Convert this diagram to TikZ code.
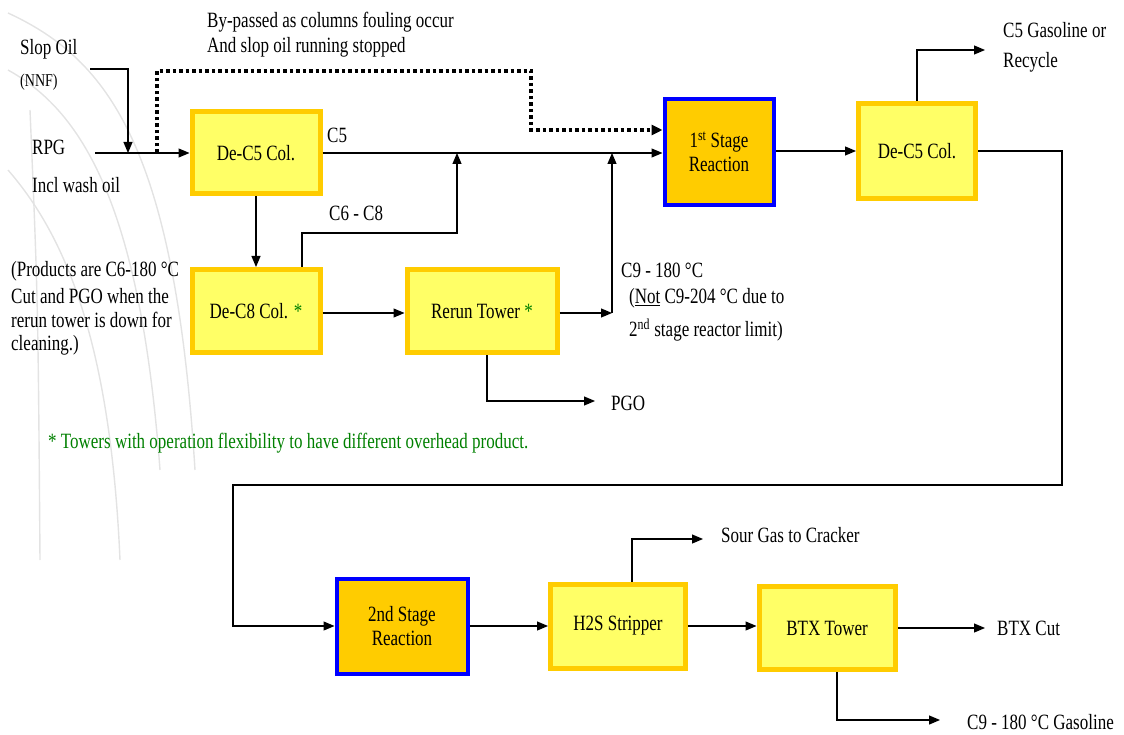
\documentclass[tikz,border=0pt]{standalone}
\usepackage{fontspec}
\setmainfont[FakeStretch=0.78]{Liberation Serif}
\usetikzlibrary{arrows.meta}
\definecolor{boxedge}{RGB}{255,204,0}
\definecolor{boxfill}{RGB}{255,255,102}
\definecolor{rxedge}{RGB}{0,0,255}
\definecolor{notegreen}{RGB}{0,128,0}
\newcommand\fs{\fontsize{21.8}{24}\selectfont}

\begin{document}
\begin{tikzpicture}[x=1pt,y=-1pt,
  col/.style={draw=boxedge,line width=5pt,fill=boxfill,font=\fs,align=center,inner sep=0pt},
  rx/.style={draw=rxedge,line width=4pt,fill=boxedge,font=\fs,align=center,inner sep=0pt},
  lbl/.style={anchor=west,inner sep=0pt,font=\fs},
  flow/.style={line width=1.2pt,-{Triangle[length=11pt,width=9pt]}},
  byp/.style={line width=3.5pt,dash pattern=on 3.5pt off 3pt,-{Triangle[length=11pt,width=10pt]}}]
  \useasboundingbox (0,0) rectangle (1124,735);
  % faint globe lines in the background
  \draw[gray!22,line width=1.4pt] (8,13) .. controls (110,60) and (175,150) .. (195,470);
  \draw[gray!22,line width=1.4pt] (8,70) .. controls (80,110) and (140,200) .. (160,470);
  \draw[gray!22,line width=1.4pt] (8,170) .. controls (60,230) and (110,330) .. (120,560);
  \draw[gray!22,line width=1.4pt] (30,110) .. controls (38,300) .. (40,560);

  % columns and reactors
  \node[col,minimum width=128pt,minimum height=82pt] (dec5a) at (256,153) {De-C5 Col.};
  \node[rx,minimum width=109pt,minimum height=106pt] (stage1) at (719,152) {1\textsuperscript{st} Stage\\Reaction};
  \node[col,minimum width=117pt,minimum height=95pt] (dec5b) at (917,151) {De-C5 Col.};
  \node[col,minimum width=128pt,minimum height=83pt] (dec8) at (256,311) {De-C8 Col. \textcolor{notegreen}{*}};
  \node[col,minimum width=150pt,minimum height=83pt] (rerun) at (482,311) {Rerun Tower \textcolor{notegreen}{*}};
  \node[rx,minimum width=131pt,minimum height=95pt] (stage2) at (402,626) {2nd Stage\\Reaction};
  \node[col,minimum width=135pt,minimum height=84pt] (h2s) at (618,626) {H2S Stripper};
  \node[col,minimum width=136pt,minimum height=83pt] (btx) at (827,628) {BTX Tower};

  % free ends and junctions
  \coordinate (rpg) at (95,153);
  \coordinate (slop) at (90,69);
  \coordinate (mix) at (128,153);
  \coordinate (bypin) at (157,153);
  \coordinate (byptop) at (531,71);
  \coordinate (bypend) at (600,130);
  \coordinate (c68) at (457,233);
  \coordinate (j1) at (457,153);
  \coordinate (c9) at (612,313);
  \coordinate (j2) at (612,153);
  \coordinate (pgo) at (595,401);
  \coordinate (c5out) at (985,50);
  \coordinate (r1) at (1062,485);
  \coordinate (r2) at (233,626);
  \coordinate (sour) at (703,539);
  \coordinate (btxcut) at (985,628);
  \coordinate (gasout) at (940,720);

  % feed side
  \draw[flow] (rpg) -- (dec5a.west);
  \draw[flow] (slop) -| (mix);
  \draw[byp] (bypin) |- (byptop) |- (stage1.west |- bypend);
  \draw[flow] (dec5a.east) -- (stage1.west |- dec5a.east);
  \draw[flow] (dec5a.south) -- (dec8.north);
  \draw[flow] ([xshift=46pt]dec8.north) |- (c68) -- (j1);
  \draw[flow] (dec8.east |- c9) -- (rerun.west |- c9);
  \draw[flow] (rerun.east |- c9) -- (c9);
  \draw[flow] (c9) -- (j2);
  \draw[flow] ([xshift=5pt]rerun.south) |- (pgo);
  % first stage to second stage
  \draw[flow] (stage1.east |- dec5b.east) -- (dec5b.west);
  \draw[flow] (dec5b.north) |- (c5out);
  \draw[flow] (dec5b.east) -| (r1) -| (r2) -- (stage2.west);
  \foreach \a/\b in {stage2/h2s,h2s/btx}
    \draw[flow] (\a.east) -- (\b.west |- \a.east);
  \draw[flow] (btx.east) -- (btxcut);
  \draw[flow] ([xshift=14pt]h2s.north) |- (sour);
  \draw[flow] ([xshift=10pt]btx.south) |- (gasout);

  % texts
  \node[lbl] (tslop) at (20,49) {Slop Oil};
  \node[lbl,font=\fontsize{18}{20}\selectfont] (tnnf) at (20,82) {(NNF)};
  \node[lbl] (trpg) at (32,147) {RPG};
  \node[lbl] (twash) at (32,185) {Incl wash oil};
  \node[lbl] (tbyp1) at (207,22) {By-passed as columns fouling occur};
  \node[lbl] (tbyp2) at (207,47) {And slop oil running stopped};
  \node[lbl] (tc5) at (327,135) {C5};
  \node[lbl] (tc68) at (329,213) {C6 - C8};
  \node[lbl] (tprod1) at (11,271) {(Products are C6-180 °C};
  \node[lbl] (tprod2) at (11,296) {Cut and PGO when the};
  \node[lbl] (tprod3) at (11,320) {rerun tower is down for};
  \node[lbl] (tprod4) at (11,345) {cleaning.)};
  \node[lbl] (tc9) at (621,270) {C9 - 180 °C};
  \node[lbl] (tnot1) at (629,298) {(\underline{Not} C9-204 °C due to};
  \node[lbl] (tnot2) at (629,330) {2\textsuperscript{nd} stage reactor limit)};
  \node[lbl] (tpgo) at (611,403) {PGO};
  \node[lbl,text=notegreen] (tnote) at (48,443) {* Towers with operation flexibility to have different overhead product.};
  \node[lbl] (tgas1) at (1003,30) {C5 Gasoline or};
  \node[lbl] (tgas2) at (1003,62) {Recycle};
  \node[lbl] (tsour) at (721,535) {Sour Gas to Cracker};
  \node[lbl] (tbtx) at (997,628) {BTX Cut};
  \node[lbl] (tgas) at (967,722) {C9 - 180 °C Gasoline};
\end{tikzpicture}
\end{document}
